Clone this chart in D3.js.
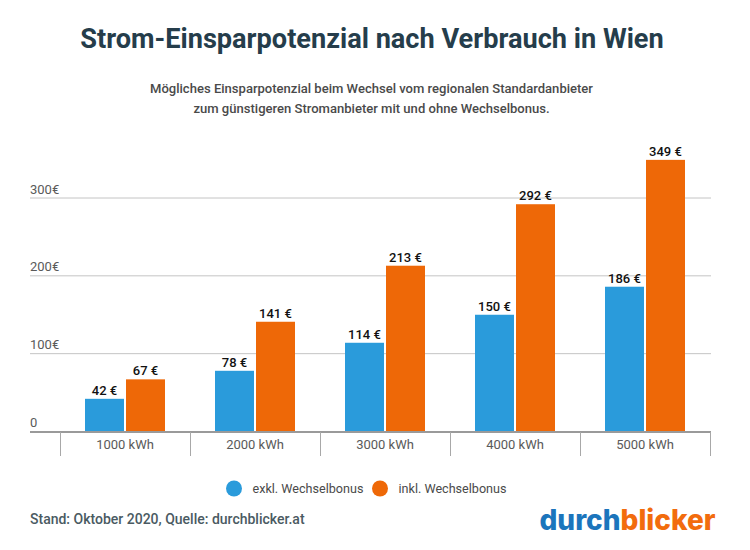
<!DOCTYPE html>
<html lang="de">
    <head>
        <meta charset="utf-8">
        <title>Strom-Einsparpotenzial</title>
        <script src="https://cdn.jsdelivr.net/npm/d3@7/dist/d3.min.js"></script>
        <style>
            html, body { margin: 0; padding: 0; background: #fff; }
            svg { display: block; font-family: Roboto, sans-serif; }
        </style>
    </head>
    <body>
        <script>
            var categories = ["1000 kWh", "2000 kWh", "3000 kWh", "4000 kWh", "5000 kWh"];
            var seriesNames = ["exkl. Wechselbonus", "inkl. Wechselbonus"];
            var exklBonus = [42, 78, 114, 150, 186];
            var inklBonus = [67, 141, 213, 292, 349];
            var yTicks = [100, 200, 300];
            var subtitleLines = [
                "Mögliches Einsparpotenzial beim Wechsel vom regionalen Standardanbieter",
                "zum günstigeren Stromanbieter mit und ohne Wechselbonus."
            ];

            var w = 750;
            var h = 550;
            var blue = "#2a9bdb";
            var orange = "#ee6807";
            var textGrey = "#4a4a4a";

            var svg = d3.select("body")
                .append("svg")
                .attr("width", w)
                .attr("height", h);

            // title + subtitle
            svg.append("text")
                .text("Strom-Einsparpotenzial nach Verbrauch in Wien")
                .attr("x", 372)
                .attr("y", 48)
                .attr("text-anchor", "middle")
                .attr("font-size", 27.15)
                .attr("font-weight", 700)
                .attr("fill", "#253d4b");

            svg.selectAll("text.sub")
                .data(subtitleLines)
                .enter()
                .append("text")
                .attr("class", "sub")
                .text(function(d) { return d; })
                .attr("x", 371.5)
                .attr("y", function(d, i) { return 93 + i * 20; })
                .attr("text-anchor", "middle")
                .attr("font-size", 13.05)
                .attr("font-weight", 500)
                .attr("fill", textGrey);

            var x = d3.scaleBand()
                .domain(categories)
                .range([60, 710]);

            var y = d3.scaleLinear()
                .domain([0, 300])
                .range([431.5, 198]);

            // gridlines
            svg.selectAll("line.grid")
                .data(yTicks)
                .enter()
                .append("line")
                .attr("class", "grid")
                .attr("x1", 30)
                .attr("x2", 711)
                .attr("y1", function(d) { return y(d); })
                .attr("y2", function(d) { return y(d); })
                .attr("stroke", "#c4c4c4")
                .attr("stroke-width", 1);

            // y labels sit above the lines
            svg.selectAll("text.ylab")
                .data([0].concat(yTicks))
                .enter()
                .append("text")
                .attr("class", "ylab")
                .text(function(d) { return d === 0 ? "0" : d + "€"; })
                .attr("x", 30)
                .attr("y", function(d) { return y(d) - 4.5; })
                .attr("font-size", 13)
                .attr("fill", "#5a5a5a");

            // bars
            var barW = 39;
            var gap = 2;
            var series = [
                { name: seriesNames[0], values: exklBonus, color: blue, off: -barW - gap / 2 },
                { name: seriesNames[1], values: inklBonus, color: orange, off: gap / 2 }
            ];

            series.forEach(function(s) {
                var cx = function(i) { return x(categories[i]) + x.bandwidth() / 2 + s.off; };

                svg.selectAll("rect.b" + s.off)
                    .data(s.values)
                    .enter()
                    .append("rect")
                    .attr("x", function(d, i) { return cx(i); })
                    .attr("y", function(d) { return y(d); })
                    .attr("width", barW)
                    .attr("height", function(d) { return y(0) - y(d); })
                    .attr("fill", s.color);

                svg.selectAll("text.v" + s.off)
                    .data(s.values)
                    .enter()
                    .append("text")
                    .text(function(d) { return d + " €"; })
                    .attr("x", function(d, i) { return cx(i) + barW / 2; })
                    .attr("y", function(d) { return y(d) - 4; })
                    .attr("text-anchor", "middle")
                    .attr("font-size", 13)
                    .attr("font-weight", 500)
                    .attr("fill", "#111111");
            });

            // x axis
            svg.append("line")
                .attr("x1", 30)
                .attr("x2", 711)
                .attr("y1", 432)
                .attr("y2", 432)
                .attr("stroke", "#9a9a9a")
                .attr("stroke-width", 2);

            svg.selectAll("line.tick")
                .data(categories.concat(["end"]))
                .enter()
                .append("line")
                .attr("class", "tick")
                .attr("x1", function(d, i) { return 60.5 + i * x.bandwidth(); })
                .attr("x2", function(d, i) { return 60.5 + i * x.bandwidth(); })
                .attr("y1", 432)
                .attr("y2", 456)
                .attr("stroke", "#a8a8a8")
                .attr("stroke-width", 1);

            svg.selectAll("text.cat")
                .data(categories)
                .enter()
                .append("text")
                .attr("class", "cat")
                .text(function(d) { return d; })
                .attr("x", function(d) { return x(d) + x.bandwidth() / 2; })
                .attr("y", 448.5)
                .attr("text-anchor", "middle")
                .attr("font-size", 13)
                .attr("fill", "#5a5a5a");

            // legend
            var legendX = [234, 380];
            series.forEach(function(s, i) {
                svg.append("circle")
                    .attr("cx", legendX[i])
                    .attr("cy", 488.5)
                    .attr("r", 8)
                    .attr("fill", s.color);
                svg.append("text")
                    .text(s.name)
                    .attr("x", legendX[i] + 18.5)
                    .attr("y", 493)
                    .attr("font-size", 12.6)
                    .attr("fill", textGrey);
            });

            // footer
            svg.append("text")
                .text("Stand: Oktober 2020, Quelle: durchblicker.at")
                .attr("x", 30)
                .attr("y", 524)
                .attr("font-size", 14)
                .attr("font-weight", 500)
                .attr("fill", "#4a5a62");

            var logo = svg.append("text")
                .attr("x", 539.5)
                .attr("y", 530)
                .attr("font-family", "Inter, Roboto, sans-serif")
                .attr("font-size", 28)
                .attr("font-weight", 800)
                .attr("textLength", 176)
                .attr("lengthAdjust", "spacingAndGlyphs");
            logo.append("tspan").text("durch").attr("fill", "#1b75bc");
            logo.append("tspan").text("blicker").attr("fill", "#f26c0d");
        </script>
    </body>
</html>
